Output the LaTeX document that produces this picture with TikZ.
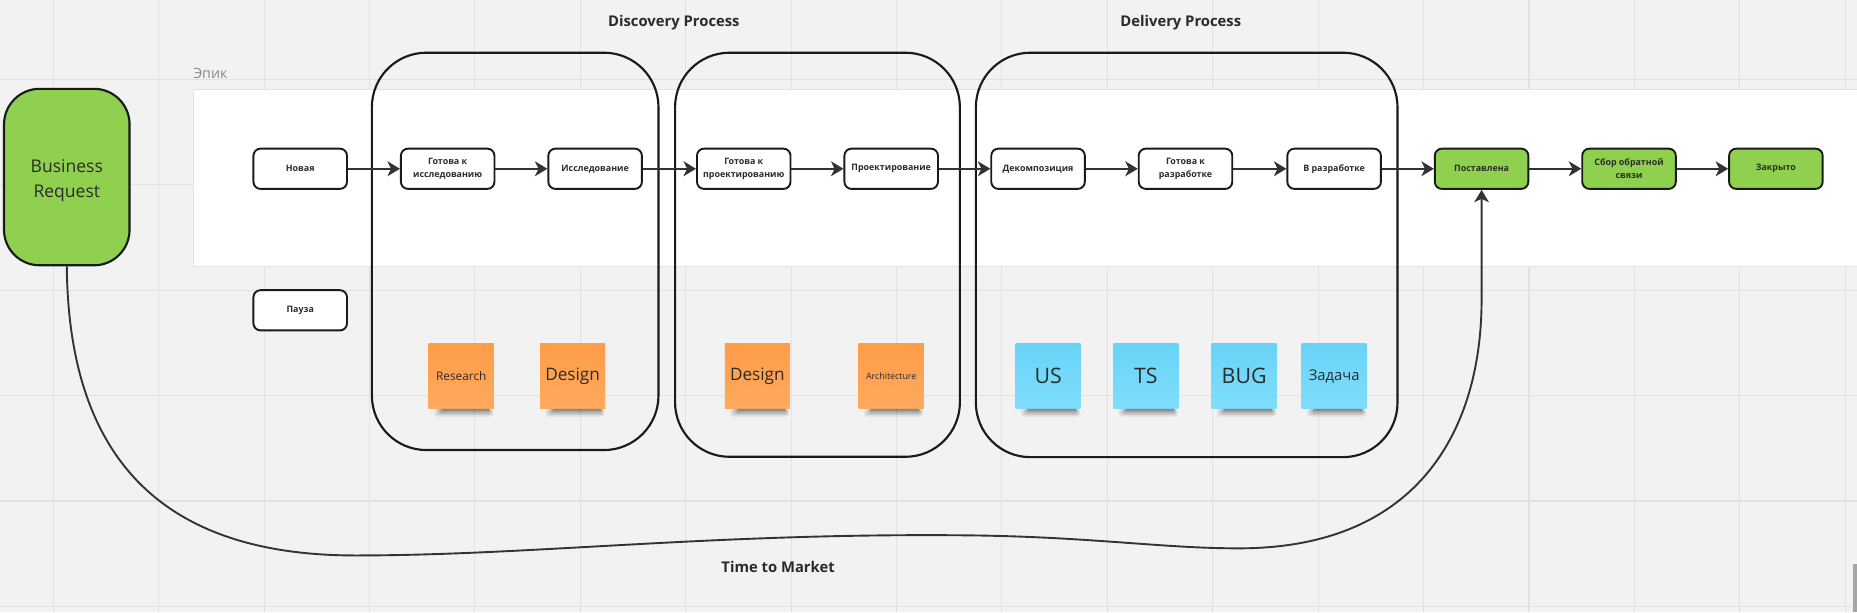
\documentclass[tikz,border=0pt]{standalone}
\usepackage{fontspec}
\setmainfont{Open Sans}
\usetikzlibrary{arrows.meta}
\definecolor{bgc}{HTML}{F2F2F2}
\definecolor{gridc}{HTML}{E2E2E2}
\definecolor{panelborder}{HTML}{E3E3E3}
\definecolor{miroGreen}{HTML}{8FD14F}
\definecolor{lineC}{HTML}{1A1A1A}
\definecolor{arrowC}{HTML}{333333}
\definecolor{txtC}{HTML}{2B2B2B}
\definecolor{orTop}{HTML}{FF9C47}
\definecolor{orBot}{HTML}{FFAA5E}
\definecolor{blTop}{HTML}{67D4F8}
\definecolor{blBot}{HTML}{80DDFC}
\definecolor{epicC}{HTML}{8A8A8A}
\definecolor{scrollC}{HTML}{A6A6A6}
\newcommand\stickshadow[1]{%
 \fill[black,opacity=.08,rounded corners=2pt] ([xshift=5pt]#1.south west) rectangle ([xshift=-1pt,yshift=-6.5pt]#1.south east);
 \fill[black,opacity=.11,rounded corners=2pt] ([xshift=7pt]#1.south west) rectangle ([xshift=-2pt,yshift=-5pt]#1.south east);
 \fill[black,opacity=.14,rounded corners=1.5pt] ([xshift=9pt]#1.south west) rectangle ([xshift=-3pt,yshift=-3.5pt]#1.south east);
 \fill[black,opacity=.18] ([xshift=11pt]#1.south west) rectangle ([xshift=-4pt,yshift=-2pt]#1.south east);
}
\begin{document}
\begin{tikzpicture}[x=1pt,y=-1pt,
  state/.style={draw=lineC, line width=1.6pt, rounded corners=6pt, fill=white,
    minimum width=79pt, minimum height=34pt, inner sep=1pt, align=center,
    font=\fontsize{7.5}{11}\selectfont\bfseries, text=txtC},
  done/.style={state, fill=miroGreen},
  flow/.style={draw=arrowC, line width=1.8pt, -{Stealth[length=10.5pt,width=12.5pt,inset=3pt]}},
  procbox/.style={draw=lineC, line width=1.8pt, rounded corners=46pt, inner sep=0pt},
  sticky/.style={minimum width=55pt, minimum height=55pt, inner sep=0pt, text=txtC},
  orange/.style={sticky, top color=orTop, bottom color=orBot},
  blue/.style={sticky, top color=blTop, bottom color=blBot},
  title/.style={font=\fontsize{12.5}{15}\selectfont\bfseries, text=txtC}
]
\useasboundingbox (0,0) rectangle (1568,517);
\fill[bgc] (0,0) rectangle (1568,517);
% grid
\foreach \x in {45,134,...,1558} \draw[gridc, line width=0.9pt] (\x,0) -- (\x,517);
\foreach \y in {67,156,...,512} \draw[gridc, line width=0.9pt] (0,\y) -- (1568,\y);
% epic panel
\draw[panelborder, fill=white, line width=0.8pt] (163,75.4) rectangle (1572,224.7);
\node[anchor=west, font=\fontsize{12}{14}\selectfont, text=epicC, inner sep=0pt] (epic) at (163,62) {Эпик};
% titles
\node[title] (tdisc) at (569,19.5) {Discovery Process};
\node[title] (tdeliv) at (997,19.5) {Delivery Process};
\node[title] (ttm) at (657,479) {Time to Market};
% stickies
\node[orange, font=\fontsize{10}{12}\selectfont] (s1) at (389.5,317.5) {Research};
\node[orange, font=\fontsize{14.5}{16}\selectfont] (s2) at (483.5,317.5) {Design};
\node[orange, font=\fontsize{14.5}{16}\selectfont] (s3) at (639.5,317.5) {Design};
\node[orange, font=\fontsize{7.5}{9}\selectfont] (s4) at (752.5,317.5) {Architecture};
\node[blue, font=\fontsize{18}{20}\selectfont] (s5) at (885,317.5) {US};
\node[blue, font=\fontsize{18}{20}\selectfont] (s6) at (967.5,317.5) {TS};
\node[blue, font=\fontsize{18}{20}\selectfont] (s7) at (1050.5,317.5) {BUG};
\node[blue, font=\fontsize{12.5}{14}\selectfont] (s8) at (1126.5,317.5) {Задача};
\foreach \s in {s1,s2,s3,s4,s5,s6,s7,s8} {\stickshadow{\s}}
% process boxes
\node[procbox, minimum width=242pt, minimum height=335.5pt] (disc1) at (435,212.25) {};
\node[procbox, minimum width=240.5pt, minimum height=341.2pt] (disc2) at (690.25,215.1) {};
\node[procbox, minimum width=356pt, minimum height=341.5pt] (deliv) at (1002,215.25) {};
% business request
\node[draw=lineC, line width=1.8pt, fill=miroGreen, rounded corners=30pt,
  minimum width=106pt, minimum height=149pt] (br) at (56.4,149.5) {};
\node[align=center, text=txtC, font=\fontsize{14.8}{21}\selectfont] (brtext) at (56.4,152.5) {Business\\Request};
% states
\node[state] (n1) at (253.5,142.5) {Новая};
\node[state] (n2) at (378,142.5) {Готова к\\исследованию};
\node[state] (n3) at (502.5,142.5) {Исследование};
\node[state] (n4) at (628,142.5) {Готова к\\проектированию};
\node[state] (n5) at (752.5,142.5) {Проектирование};
\node[state] (n6) at (876.5,142.5) {Декомпозиция};
\node[state] (n7) at (1001,142.5) {Готова к\\разработке};
\node[state] (n8) at (1126.5,142.5) {В разработке};
\node[done] (post) at (1251,142.5) {Поставлена};
\node[done] (n10) at (1375.5,142.5) {Сбор обратной\\связи};
\node[done] (n11) at (1499.5,142.5) {Закрыто};
\node[state] (pause) at (253.5,262) {Пауза};
% flows
\draw[flow] (n1) -- (n2);
\draw[flow] (n2) -- (n3);
\draw[flow] (n3) -- (n4);
\draw[flow] (n4) -- (n5);
\draw[flow] (n5) -- (n6);
\draw[flow] (n6) -- (n7);
\draw[flow] (n7) -- (n8);
\draw[flow] (n8) -- (post);
\draw[flow] (post) -- (n10);
\draw[flow] (n10) -- (n11);
% time to market curve
\draw[draw=arrowC, line width=1.6pt, -{Stealth[length=10.5pt,width=12.5pt,inset=3pt]}]
  (br.south) .. controls (58,400) and (150,469) .. (300,469)
  .. controls (450,469) and (600,450) .. (814,452)
  .. controls (920,453) and (980,463) .. (1046,463)
  .. controls (1200,463) and (1251,360) .. (1251,253) -- (post.south);
% scrollbar
\fill[scrollC] (1565,476) rectangle (1568,517);
\end{tikzpicture}
\end{document}
